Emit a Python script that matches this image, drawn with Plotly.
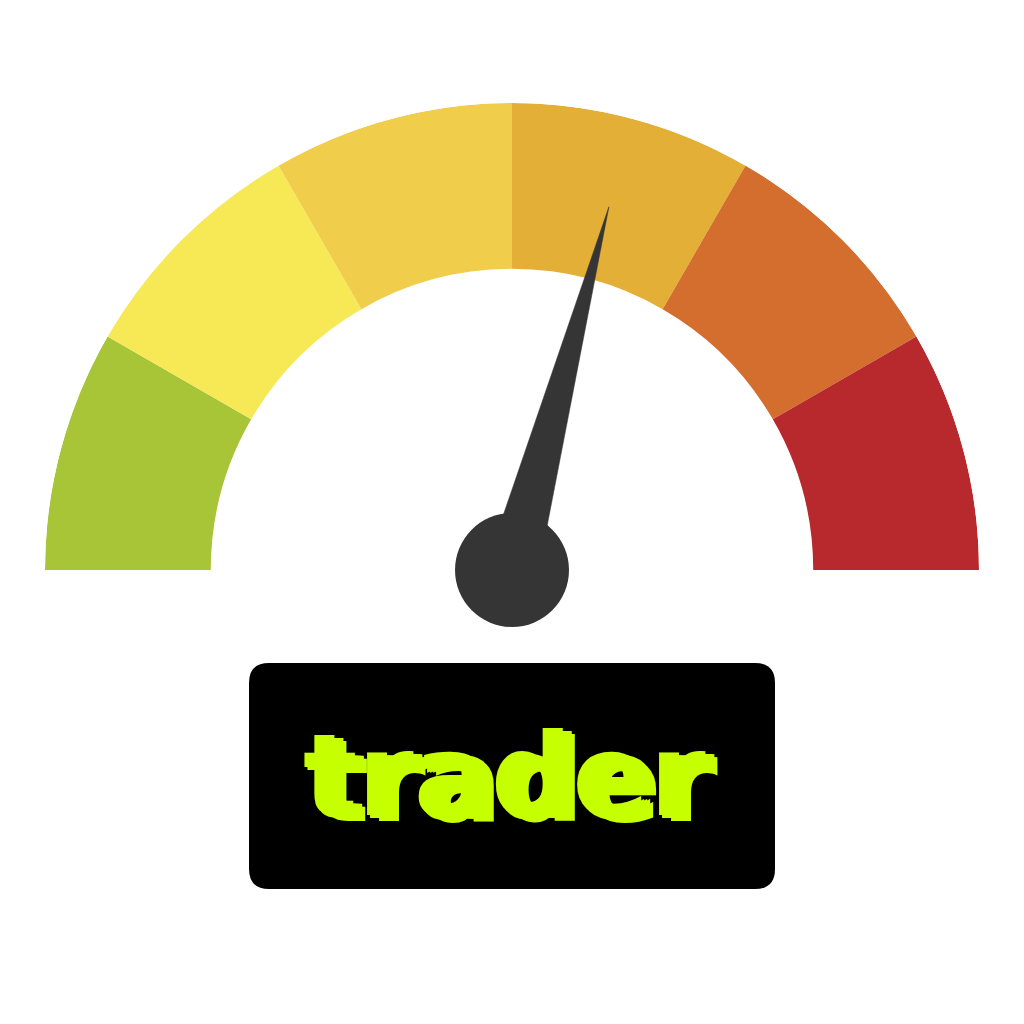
import numpy as np
import plotly.graph_objects as go

# gauge data (0-100 scale, drawn over a half circle)
step_edges = [0, 16.67, 33.33, 50, 66.67, 83.33, 100]
step_colors = ["#A8C538", "#F7E856", "#F0CD4A", "#E3AF36", "#D46E2F", "#B7292C"]
needle_value = 58.3
label_text = "trader"

inner_r = 0.645   # hole of the arc, as share of outer radius
needle_len = 0.805
needle_half = 0.056


def to_angle(v):
    return 180 - v * 180 / 100


# page pixels -> paper coords (the page body adds an 8px margin)
def px(x):
    return (x - 8) / 1024


def py(y):
    return 1 - (y - 8) / 1024


lo = np.array(step_edges[:-1])
hi = np.array(step_edges[1:])
theta_mid = to_angle((lo + hi) / 2)
widths = (hi - lo) * 180 / 100

fig = go.Figure()

fig.add_trace(go.Barpolar(
    r=[1 - inner_r] * len(step_colors),
    base=inner_r,
    theta=theta_mid,
    width=widths,
    marker=dict(color=step_colors, line=dict(width=0)),
    hoverinfo="skip",
))

a = to_angle(needle_value)
fig.add_trace(go.Scatterpolar(
    r=[needle_half, needle_len, needle_half, needle_half],
    theta=[a + 90, a, a - 90, a + 90],
    mode="lines",
    fill="toself",
    fillcolor="#353535",
    line=dict(color="#353535", width=0.5),
    cliponaxis=False,
    hoverinfo="skip",
))

fig.add_trace(go.Scatterpolar(
    r=[0], theta=[0],
    mode="markers",
    marker=dict(size=114, color="#353535"),
    cliponaxis=False,
    hoverinfo="skip",
))

fig.update_layout(
    width=1024, height=1024,
    margin=dict(l=0, r=0, t=0, b=0),
    paper_bgcolor="white",
    showlegend=False,
    polar=dict(
        domain=dict(x=[px(45), px(979)], y=[py(570), py(103)]),
        sector=[0, 180],
        bgcolor="rgba(0,0,0,0)",
        radialaxis=dict(range=[0, 1], visible=False),
        angularaxis=dict(visible=False, direction="counterclockwise", rotation=0),
    ),
)

# label box with rounded corners
x0, x1, y0, y1, rr = px(249), px(775), py(889), py(663), 20 / 1024
fig.add_shape(
    type="path", xref="paper", yref="paper",
    path=(f"M {x0+rr},{y0} L {x1-rr},{y0} Q {x1},{y0} {x1},{y0+rr} "
          f"L {x1},{y1-rr} Q {x1},{y1} {x1-rr},{y1} L {x0+rr},{y1} "
          f"Q {x0},{y1} {x0},{y1-rr} L {x0},{y0+rr} Q {x0},{y0} {x0+rr},{y0} Z"),
    fillcolor="black", line=dict(width=0),
)

fig.add_annotation(
    x=px(510), y=py(778), xref="paper", yref="paper",
    text=f"<b>{label_text}</b>", showarrow=False,
    xanchor="center", yanchor="middle",
    font=dict(family="DejaVu Sans", size=114, color="#C6FF00",
              shadow="3px 0px 0px #C6FF00, -3px 0px 0px #C6FF00, 6px 3px 0px #C6FF00, -6px -3px 0px #C6FF00"),
)

fig.write_html("out.html")
